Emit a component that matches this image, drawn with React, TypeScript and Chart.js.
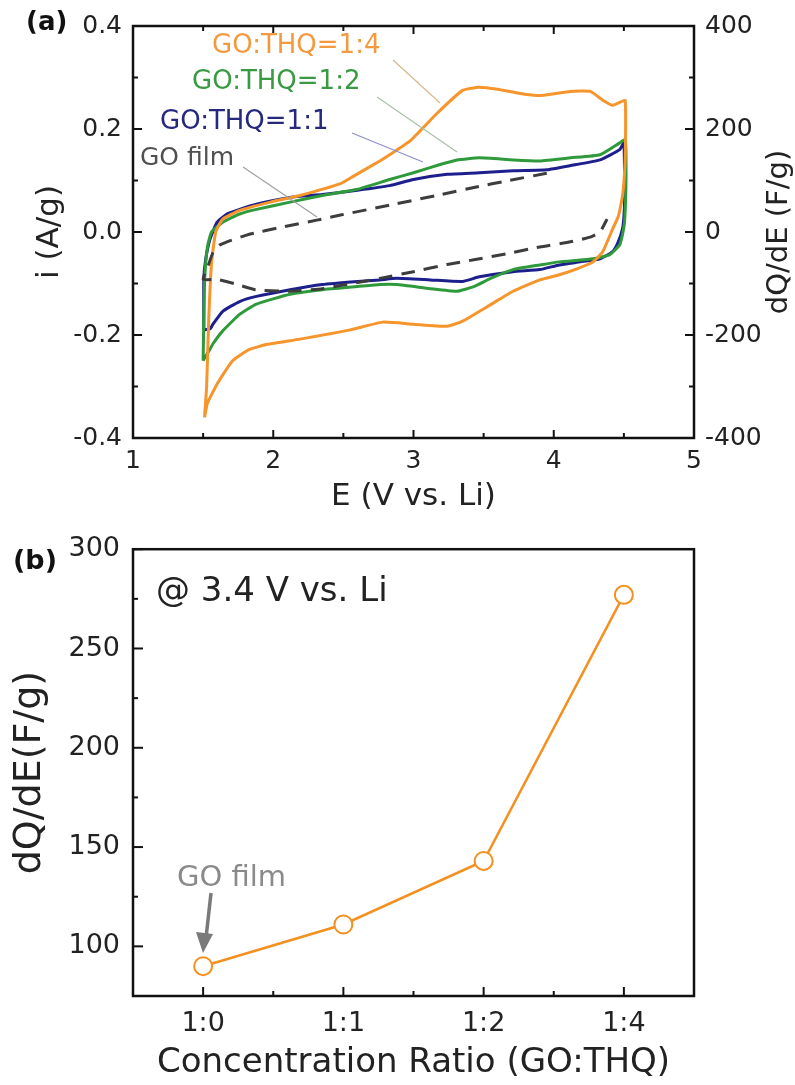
import React, { useEffect, useRef } from 'react';
import { Chart, registerables } from 'chart.js';
Chart.register(...registerables);

const FONT = '"DejaVu Sans", sans-serif';

// ---------- Panel (a): cyclic voltammograms ----------
const ratio14E = [1.51,1.525,1.54,1.56,1.59,1.64,1.76,1.98,2.19,2.48,2.57,2.76,2.83,2.98,3.17,3.35,3.47,3.6,3.76,3.9,4.12,4.26,4.35,4.42,4.49,4.51,4.51,4.5,4.49,4.46,4.42,4.35,4.28,4.17,4.04,3.9,3.71,3.55,3.35,3.24,3.0,2.78,2.55,2.19,1.96,1.83,1.71,1.6,1.53,1.51];
const ratio14I = [-0.36,-0.3,-0.17,-0.06,0.0,0.025,0.042,0.058,0.071,0.094,0.108,0.138,0.15,0.178,0.231,0.275,0.281,0.277,0.269,0.265,0.273,0.273,0.256,0.246,0.254,0.255,0.15,0.096,0.07,0.03,0.006,-0.038,-0.058,-0.071,-0.083,-0.093,-0.115,-0.141,-0.173,-0.183,-0.179,-0.175,-0.19,-0.208,-0.218,-0.228,-0.25,-0.295,-0.333,-0.36];

const ratio12E = [1.5,1.51,1.53,1.56,1.64,1.76,1.88,2.12,2.35,2.6,2.83,3.0,3.19,3.31,3.47,3.71,3.9,4.12,4.33,4.47,4.51,4.515,4.505,4.49,4.47,4.4,4.28,4.04,3.9,3.71,3.55,3.43,3.31,3.12,2.88,2.76,2.6,2.35,2.12,1.88,1.76,1.64,1.57,1.55,1.51,1.5];
const ratio12I = [-0.25,-0.1,-0.03,0.0,0.019,0.035,0.044,0.058,0.071,0.083,0.102,0.115,0.131,0.14,0.144,0.14,0.138,0.144,0.15,0.173,0.179,0.1,0.02,-0.005,-0.025,-0.044,-0.052,-0.058,-0.064,-0.073,-0.09,-0.106,-0.115,-0.11,-0.102,-0.102,-0.106,-0.112,-0.121,-0.14,-0.16,-0.192,-0.217,-0.227,-0.245,-0.25];

const ratio11E = [1.505,1.505,1.52,1.55,1.6,1.67,1.76,1.88,2.12,2.35,2.6,2.83,3.0,3.24,3.47,3.71,3.95,4.12,4.33,4.47,4.5,4.505,4.5,4.49,4.46,4.42,4.33,4.19,4.04,3.9,3.71,3.47,3.35,3.12,2.88,2.76,2.6,2.35,2.12,1.88,1.76,1.64,1.57,1.55,1.505];
const ratio11I = [-0.19,-0.09,-0.05,-0.013,0.019,0.035,0.044,0.054,0.067,0.073,0.081,0.09,0.102,0.112,0.115,0.119,0.121,0.129,0.14,0.16,0.173,0.06,0.029,0.006,-0.019,-0.038,-0.052,-0.058,-0.064,-0.073,-0.077,-0.087,-0.096,-0.093,-0.09,-0.093,-0.096,-0.102,-0.112,-0.125,-0.135,-0.154,-0.179,-0.188,-0.19];

const goFilmE = [3.95,3.68,3.44,3.2,2.83,2.48,2.31,2.07,1.81,1.62,1.57,1.53,1.5,1.6,1.72,1.87,2.12,2.35,2.76,3.0,3.24,3.43,3.67,3.9,4.12,4.26,4.33,4.38];
const goFilmI = [0.114,0.1,0.087,0.073,0.052,0.033,0.023,0.01,-0.006,-0.025,-0.04,-0.07,-0.092,-0.092,-0.1,-0.112,-0.115,-0.11,-0.09,-0.077,-0.063,-0.054,-0.042,-0.029,-0.019,-0.01,0.0,0.025];

const xTicksA = [1, 2, 3, 4, 5];
const yTicksLeftA = [-0.4, -0.2, 0.0, 0.2, 0.4];
const yTicksRightA = [-400, -200, 0, 200, 400];

// ---------- Panel (b): dQ/dE at 3.4 V ----------
const ratioLabels = ['1:0', '1:1', '1:2', '1:4'];
const capacitance = [90, 111, 143, 277];
const yTicksB = [100, 150, 200, 250, 300];

const ORANGE = '#f5952c';
const GREEN = '#2f9a3c';
const NAVY = '#1d1f8c';
const DASH = '#3d3d3d';

function txt(ctx: CanvasRenderingContext2D, s: string, x: number, y: number, size: number, color: string, align: CanvasTextAlign = 'left', weight = 'normal', rot = 0) {
  ctx.save();
  ctx.font = `${weight} ${size}px ${FONT}`;
  ctx.fillStyle = color;
  ctx.textAlign = align;
  ctx.textBaseline = 'middle';
  ctx.translate(x, y);
  if (rot) ctx.rotate(rot);
  ctx.fillText(s, 0, 0);
  ctx.restore();
}

function seg(ctx: CanvasRenderingContext2D, x1: number, y1: number, x2: number, y2: number, color: string, w: number) {
  ctx.save();
  ctx.strokeStyle = color;
  ctx.lineWidth = w;
  ctx.beginPath();
  ctx.moveTo(x1, y1);
  ctx.lineTo(x2, y2);
  ctx.stroke();
  ctx.restore();
}

const pts = (xs: number[], ys: number[]) => xs.map((x, k) => ({ x, y: ys[k] }));

const decorA = {
  id: 'decorA',
  afterDraw(chart: any) {
    const ctx = chart.ctx as CanvasRenderingContext2D;
    const { left, right, top, bottom } = chart.chartArea;
    const x = chart.scales.x, y = chart.scales.y, y2 = chart.scales.y2;
    for (let v = 1; v <= 5.001; v += 0.5) {
      const px = x.getPixelForValue(v);
      const len = Math.abs(v - Math.round(v)) < 1e-6 ? 8 : 5;
      seg(ctx, px, bottom, px, bottom - len, '#111', 2);
      seg(ctx, px, top, px, top + len, '#111', 2);
    }
    for (let k = -4; k <= 4; k++) {
      const py = y.getPixelForValue(k / 10);
      const len = k % 2 === 0 ? 9 : 5;
      seg(ctx, left, py, left + len, py, '#111', 2);
      const py2 = y2.getPixelForValue(k * 100);
      seg(ctx, right, py2, right - len, py2, '#111', 2);
    }
    ctx.save();
    ctx.strokeStyle = '#111';
    ctx.lineWidth = 2.5;
    ctx.strokeRect(left, top, right - left, bottom - top);
    ctx.restore();
    txt(ctx, 'E (V vs. Li)', (left + right) / 2, 497, 31, '#222', 'center');
    txt(ctx, 'i (A/g)', 50, (top + bottom) / 2, 31, '#222', 'center', 'normal', -Math.PI / 2);
    txt(ctx, 'dQ/dE (F/g)', 779, (top + bottom) / 2, 29, '#222', 'center', 'normal', -Math.PI / 2);
    txt(ctx, '(a)', 26, 23, 26, '#111', 'left', 'bold');
    seg(ctx, 393, 60, 440, 103, '#d8b690', 1.2);
    seg(ctx, 377, 97, 457, 152, '#a8c0a8', 1.2);
    seg(ctx, 352, 133, 423, 162, '#8e8ed0', 1.2);
    seg(ctx, 243, 167, 317, 217, '#a0a0a0', 1.2);
    txt(ctx, 'GO:THQ=1:4', 212, 46, 26, '#f29a40');
    txt(ctx, 'GO:THQ=1:2', 192, 82, 26, '#3a9a44');
    txt(ctx, 'GO:THQ=1:1', 160, 122, 26, '#26287e');
    txt(ctx, 'GO film', 140, 158, 25, '#505050');
  },
};

const decorB = {
  id: 'decorB',
  afterDraw(chart: any) {
    const ctx = chart.ctx as CanvasRenderingContext2D;
    const { left, right, top, bottom } = chart.chartArea;
    const x = chart.scales.x, y = chart.scales.y;
    for (let k = 0; k < ratioLabels.length; k++) {
      const px = x.getPixelForValue(k);
      seg(ctx, px, bottom, px, bottom - 9, '#111', 2);
      if (k < ratioLabels.length - 1) {
        const mx = (px + x.getPixelForValue(k + 1)) / 2;
        seg(ctx, mx, bottom, mx, bottom - 5, '#111', 2);
      }
    }
    for (let v = 100; v <= 300; v += 25) {
      const py = y.getPixelForValue(v);
      const len = v % 50 === 0 ? 10 : 5;
      seg(ctx, left, py, left + len, py, '#111', 2);
    }
    ctx.save();
    ctx.strokeStyle = '#111';
    ctx.lineWidth = 2.5;
    ctx.strokeRect(left, top, right - left, bottom - top);
    ctx.restore();
    txt(ctx, 'Concentration Ratio (GO:THQ)', (left + right) / 2, 543, 34, '#222', 'center');
    txt(ctx, 'dQ/dE(F/g)', 30, (top + bottom) / 2, 38, '#222', 'center', 'normal', -Math.PI / 2);
    txt(ctx, '(b)', 13, 42, 27, '#111', 'left', 'bold');
    txt(ctx, '@ 3.4 V vs. Li', 156, 72, 34, '#222');
    txt(ctx, 'GO film', 177, 358, 29, '#8a8a8a');
    seg(ctx, 211, 373, 206, 418, '#7a7a7a', 3.5);
    ctx.save();
    ctx.fillStyle = '#7a7a7a';
    ctx.beginPath();
    ctx.moveTo(203, 433);
    ctx.lineTo(196, 412);
    ctx.lineTo(213, 414);
    ctx.closePath();
    ctx.fill();
    ctx.restore();
  },
};

export default function App() {
  const refA = useRef<HTMLCanvasElement>(null);
  const refB = useRef<HTMLCanvasElement>(null);

  useEffect(() => {
    const tickFont = { family: FONT, size: 25 };
    const lineDs = (label: string, xs: number[], ys: number[], color: string, extra: any = {}) => ({
      label,
      data: pts(xs, ys),
      showLine: true,
      borderColor: color,
      backgroundColor: color,
      borderWidth: 3,
      pointRadius: 0,
      tension: 0.15,
      fill: false,
      ...extra,
    });
    const chartA = new Chart(refA.current!, {
      type: 'scatter',
      data: {
        datasets: [
          lineDs('GO film', goFilmE, goFilmI, DASH, { borderDash: [14, 9], borderWidth: 3 }),
          lineDs('GO:THQ=1:4', ratio14E, ratio14I, ORANGE),
          lineDs('GO:THQ=1:2', ratio12E, ratio12I, GREEN),
          lineDs('GO:THQ=1:1', ratio11E, ratio11I, NAVY),
        ],
      },
      options: {
        animation: false,
        responsive: false,
        layout: { padding: { top: 22, left: 0, right: 0, bottom: 0 } },
        plugins: { legend: { display: false }, tooltip: { enabled: false } },
        scales: {
          x: {
            type: 'linear', min: 1, max: 5,
            grid: { display: false, drawTicks: false }, border: { display: false },
            afterBuildTicks: (s: any) => { s.ticks = xTicksA.map((v) => ({ value: v })); },
            afterFit: (s: any) => { s.height = 82; },
            ticks: { font: tickFont, color: '#222', padding: 8, callback: (v: any) => String(v), maxRotation: 0 },
          },
          y: {
            type: 'linear', position: 'left', min: -0.4, max: 0.4,
            grid: { display: false, drawTicks: false }, border: { display: false },
            afterBuildTicks: (s: any) => { s.ticks = yTicksLeftA.map((v) => ({ value: v })); },
            afterFit: (s: any) => { s.width = 133; },
            ticks: { font: tickFont, color: '#222', padding: 11, callback: (v: any) => Number(v).toFixed(1) },
          },
          y2: {
            type: 'linear', position: 'right', min: -400, max: 400,
            grid: { display: false, drawTicks: false }, border: { display: false },
            afterBuildTicks: (s: any) => { s.ticks = yTicksRightA.map((v) => ({ value: v })); },
            afterFit: (s: any) => { s.width = 101; },
            ticks: { font: tickFont, color: '#222', padding: 11, callback: (v: any) => String(v) },
          },
        },
      } as any,
      plugins: [decorA],
    });

    const chartB = new Chart(refB.current!, {
      type: 'line',
      data: {
        labels: ratioLabels,
        datasets: [
          {
            label: 'dQ/dE @ 3.4 V',
            data: capacitance,
            borderColor: '#f3901f',
            borderWidth: 2.5,
            pointRadius: 9,
            pointBorderWidth: 2,
            pointBorderColor: '#f3901f',
            pointBackgroundColor: '#ffffff',
            tension: 0,
            clip: false,
          },
        ],
      },
      options: {
        animation: false,
        responsive: false,
        layout: { padding: { top: 20, left: 0, right: 101, bottom: 0 } },
        plugins: { legend: { display: false }, tooltip: { enabled: false } },
        scales: {
          x: {
            type: 'category', offset: true,
            grid: { display: false, drawTicks: false }, border: { display: false },
            afterFit: (s: any) => { s.height = 89; },
            ticks: { font: { family: FONT, size: 27 }, color: '#222', padding: 12, maxRotation: 0 },
          },
          y: {
            type: 'linear', min: 75, max: 300,
            grid: { display: false, drawTicks: false }, border: { display: false },
            afterBuildTicks: (s: any) => { s.ticks = yTicksB.map((v) => ({ value: v })); },
            afterFit: (s: any) => { s.width = 133; },
            ticks: { font: { family: FONT, size: 27 }, color: '#222', padding: 13 },
          },
        },
      } as any,
      plugins: [decorB],
    });

    return () => {
      chartA.destroy();
      chartB.destroy();
    };
  }, []);

  return (
    <div style={{ position: 'absolute', left: 0, top: 0, width: 795, height: 1085, background: '#fff' }}>
      <canvas ref={refA} width={795} height={520} style={{ display: 'block', width: 795, height: 520 }} />
      <canvas ref={refB} width={795} height={565} style={{ display: 'block', width: 795, height: 565 }} />
    </div>
  );
}
